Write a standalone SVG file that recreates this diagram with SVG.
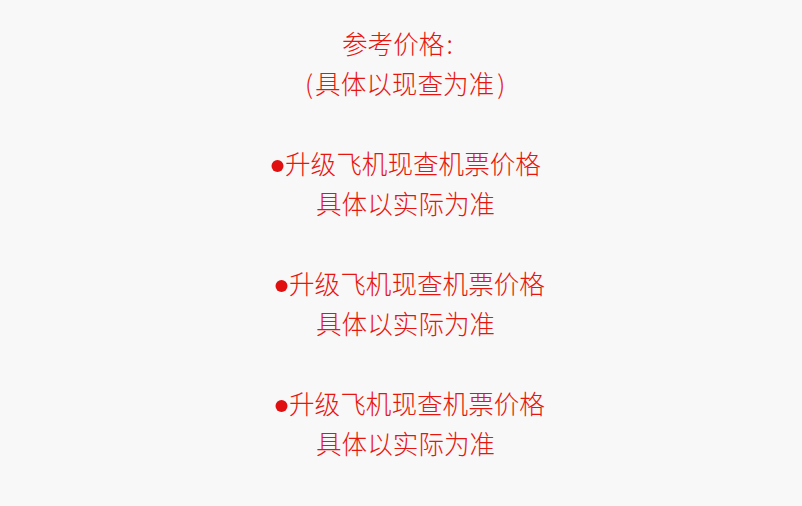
<svg xmlns="http://www.w3.org/2000/svg" width="802" height="506" viewBox="0 0 802 506">
<style>
.t{font-family:"Noto Sans CJK SC","Noto Sans",sans-serif;font-size:25.6px;font-weight:300;fill:#e8150f}
.b{fill:#e01010}
</style>
<rect width="802" height="506" fill="#f8f8f8"/>
<g id="header">
<text class="t" x="342" y="54">参考价格<tspan dx="2">:</tspan></text>
<text class="t" x="305" y="94">(<tspan dx="2">具体以现查为准</tspan><tspan dx="3">)</tspan></text>
</g>
<g id="item1">
<circle class="b" cx="277.5" cy="166" r="6"/>
<text class="t" x="285" y="174">升级飞机现查机票价格</text>
<text class="t" x="316" y="214">具体以实际为准</text>
</g>
<g id="item2">
<circle class="b" cx="281.5" cy="286" r="6"/>
<text class="t" x="289" y="294">升级飞机现查机票价格</text>
<text class="t" x="316" y="334">具体以实际为准</text>
</g>
<g id="item3">
<circle class="b" cx="281.5" cy="406" r="6"/>
<text class="t" x="289" y="414">升级飞机现查机票价格</text>
<text class="t" x="316" y="454">具体以实际为准</text>
</g>
<g id="connectors"></g>
</svg>
